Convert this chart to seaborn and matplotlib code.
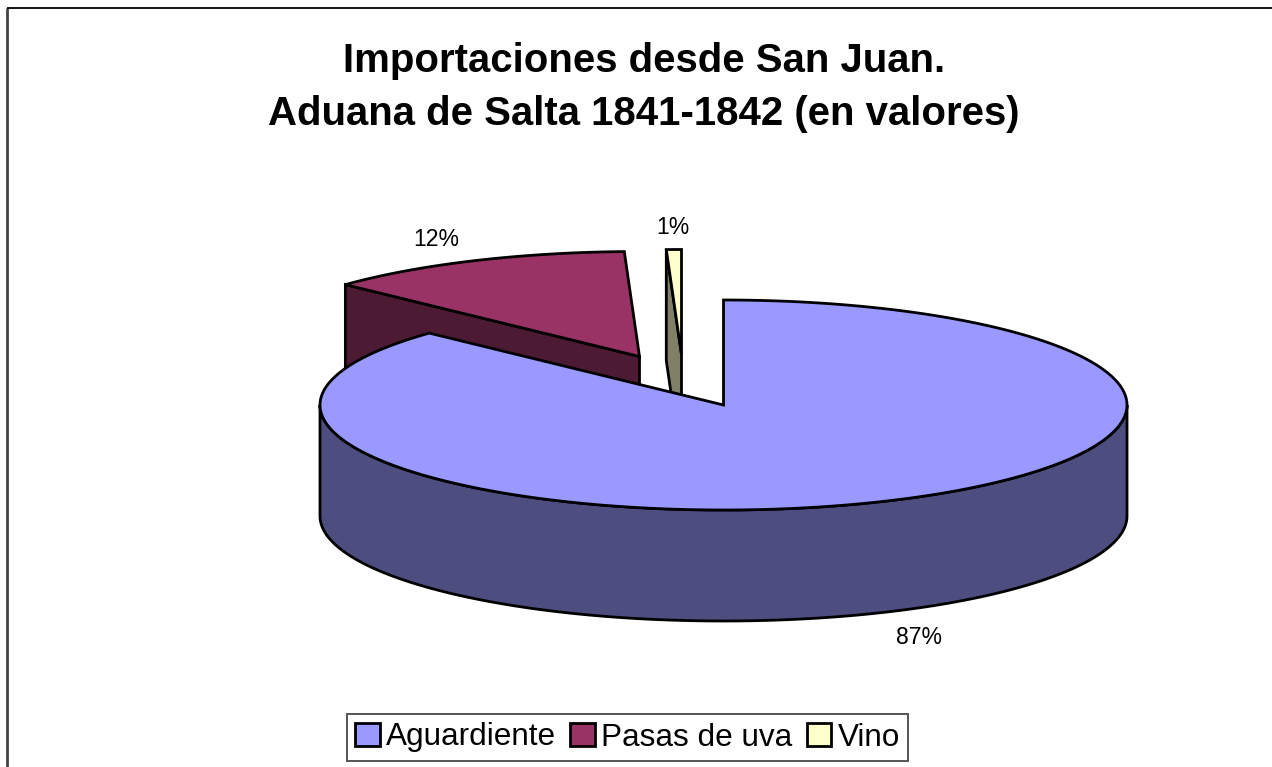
import numpy as np
import matplotlib
matplotlib.use("Agg")
import matplotlib.pyplot as plt
from matplotlib.patches import Patch, Polygon
import seaborn as sns

# ---- data ----
categories = ["Aguardiente", "Pasas de uva", "Vino"]
values = [87.0, 12.4, 0.6]
title_lines = ["Importaciones desde San Juan.", "Aduana de Salta 1841-1842 (en valores)"]

# ---- style / layout (pixels) ----
top_colors = ["#9999FF", "#993366", "#FFFFCC"]
side_colors = ["#4D4D80", "#4D1A33", "#808066"]
offsets = [(0, 0), (-84, -48.5), (-42, -50.5)]
label_pos = [(919, 637), (436, 239), (673, 227)]
CX, CY, RX, RY, DEPTH = 723.5, 405, 403.5, 105, 111
LW = 2.0

sns.set_theme(style="white")
plt.rcParams["font.family"] = ["Liberation Sans", "DejaVu Sans"]
palette = sns.color_palette(top_colors)
side_palette = sns.color_palette(side_colors)

fig = plt.figure(figsize=(12.72, 7.67), dpi=100, facecolor="white")
ax = fig.add_axes([0, 0, 1, 1])
ax.set_xlim(0, 1272)
ax.set_ylim(767, 0)
ax.axis("off")


def rim(t_deg, cx, cy):
    t = np.radians(t_deg)
    return np.column_stack([cx + RX * np.sin(t), cy - RY * np.cos(t)])


def poly(points, color, z):
    ax.add_patch(Polygon(points, closed=True, facecolor=color, edgecolor="black",
                         linewidth=LW, joinstyle="miter", zorder=z))


shares = np.array(values) / sum(values)
ends = np.cumsum(shares) * 360
starts = ends - shares * 360

# draw the exploded slices behind the main one
for i in [2, 1, 0]:
    cx, cy = CX + offsets[i][0], CY + offsets[i][1]
    z = 5 - i if i else 10
    arc = np.linspace(starts[i], ends[i], 300)
    top = rim(arc, cx, cy)
    apex = np.array([[cx, cy]])
    if i == 0:
        t = np.linspace(90, 270, 200)
        upper = rim(t, cx, cy)
        lower = rim(t[::-1], cx, cy + DEPTH)
        poly(np.vstack([upper, lower]), side_palette[i], z)
    else:
        corner = top[:1]
        drop = np.array([[0, DEPTH]])
        poly(np.vstack([corner, apex, apex + drop, corner + drop]), side_palette[i], z)
    poly(np.vstack([apex, top]), palette[i], z + 0.5)

for v, (x, y) in zip(values, label_pos):
    ax.text(x, y, f"{v:.0f}%", ha="center", va="center", fontsize=16.6, color="black", zorder=20)

ax.text(644, 61, title_lines[0], ha="center", va="center", fontsize=28.9,
        fontweight="bold", color="black")
ax.text(644, 114, title_lines[1], ha="center", va="center", fontsize=28.9,
        fontweight="bold", color="black")

# outer frame lines
ax.plot([7, 7], [767, 8], color="#444444", lw=2, solid_capstyle="butt", zorder=1)
ax.plot([7, 1272], [8, 8], color="black", lw=1.3, solid_capstyle="butt", zorder=1)

handles = [Patch(facecolor=c, edgecolor="black", linewidth=2.0, label=n)
           for c, n in zip(palette, categories)]
leg = ax.legend(handles=handles, ncol=3, loc="center", bbox_to_anchor=(627.5 / 1272, 1 - 737.5 / 767),
                fontsize=22.7, frameon=True, fancybox=False, edgecolor="#555555", facecolor="white",
                labelcolor="black", framealpha=1, handlelength=0.78, handleheight=0.78,
                handletextpad=0.2, columnspacing=0.45, borderpad=0.27, borderaxespad=0, labelspacing=0)
leg.get_frame().set_linewidth(1.4)
leg.set_zorder(30)

fig.savefig("out.png", dpi=100)
